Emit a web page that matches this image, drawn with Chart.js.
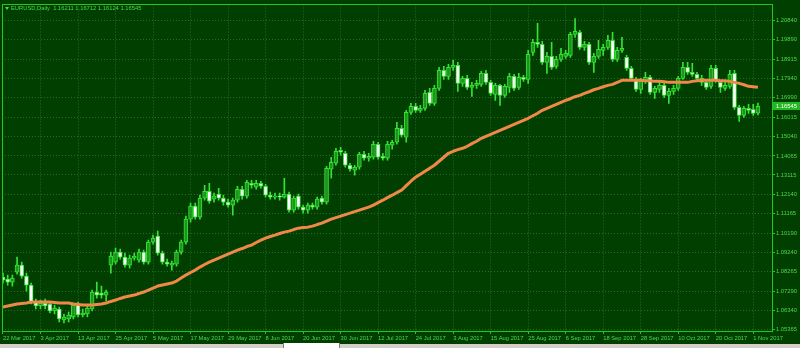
<!DOCTYPE html>
<html>
<head>
<meta charset="utf-8">
<script src="https://cdn.jsdelivr.net/npm/chart.js@4.4.0/dist/chart.umd.min.js"></script>
<style>
  html, body { margin: 0; padding: 0; background: #003f00; }
  #wrap { position: relative; width: 800px; height: 348px; overflow: hidden; background: #003f00; }
  canvas { display: block; }
  #strip { position: absolute; left: 0; top: 344px; width: 800px; height: 4px; background: #d4d0c8; }
  #tab { position: absolute; left: 283px; top: 343px; width: 55px; height: 5px; background: #ffffff; border-left: 1px solid #808080; border-right: 1px solid #808080; }
</style>
</head>
<body>
<div id="wrap">
  <canvas id="chart" width="800" height="344"></canvas>
  <div id="strip"></div>
  <div id="tab"></div>
</div>
<script>
var symbolName = "EURUSD,Daily";

// one label every 8 daily bars, first bar = 22 Mar 2017
var tickLabels = ["22 Mar 2017", "3 Apr 2017", "13 Apr 2017", "25 Apr 2017", "5 May 2017",
  "17 May 2017", "29 May 2017", "8 Jun 2017", "20 Jun 2017", "30 Jun 2017", "12 Jul 2017",
  "24 Jul 2017", "3 Aug 2017", "15 Aug 2017", "25 Aug 2017", "6 Sep 2017", "18 Sep 2017",
  "28 Sep 2017", "10 Oct 2017", "20 Oct 2017", "1 Nov 2017"];
var barsPerLabel = 8;

var priceTicks = [1.20840, 1.19890, 1.18915, 1.17940, 1.16990, 1.16015, 1.15040, 1.14065,
  1.13115, 1.12140, 1.11165, 1.10190, 1.09240, 1.08265, 1.07290, 1.06340, 1.05365];

var opens = [
  1.0800, 1.0790, 1.0775, 1.0825, 1.0860, 1.0805, 1.0760, 1.0675, 1.0655, 1.0670,
  1.0665, 1.0630, 1.0640, 1.0585, 1.0590, 1.0600, 1.0660, 1.0610, 1.0615, 1.0640,
  1.0725, 1.0720, 1.0710, 1.0860, 1.0875, 1.0925, 1.0900, 1.0860, 1.0895, 1.0885,
  1.0925, 1.0875, 1.0975, 1.1005, 1.0920, 1.0875, 1.0860, 1.0865, 1.0925, 1.0975,
  1.1090, 1.1155, 1.1100, 1.1195, 1.1230, 1.1190, 1.1215, 1.1195, 1.1175, 1.1160,
  1.1185, 1.1240, 1.1205, 1.1270, 1.1250, 1.1270, 1.1255, 1.1210, 1.1200, 1.1205,
  1.1200, 1.1215, 1.1135, 1.1205, 1.1150, 1.1135, 1.1160, 1.1150, 1.1195, 1.1175,
  1.1340, 1.1370, 1.1435, 1.1420, 1.1360, 1.1335, 1.1350, 1.1415, 1.1395, 1.1400,
  1.1465, 1.1405, 1.1395, 1.1460, 1.1475, 1.1545, 1.1500, 1.1625, 1.1655, 1.1635,
  1.1645, 1.1725, 1.1670, 1.1745, 1.1835, 1.1805, 1.1850, 1.1860, 1.1770, 1.1795,
  1.1750, 1.1760, 1.1765, 1.1820, 1.1775, 1.1715, 1.1760, 1.1710, 1.1750, 1.1805,
  1.1750, 1.1800, 1.1790, 1.1925, 1.1975, 1.1965, 1.1875, 1.1905, 1.1855, 1.1890,
  1.1905, 1.1910, 1.2015, 1.2025, 1.1950, 1.1965, 1.1875, 1.1905, 1.1935, 1.1950,
  1.1985, 1.1890, 1.1935, 1.1900, 1.1845, 1.1790, 1.1740, 1.1780, 1.1800, 1.1725,
  1.1740, 1.1760, 1.1710, 1.1730, 1.1745, 1.1795, 1.1850, 1.1825, 1.1815, 1.1795,
  1.1775, 1.1755, 1.1845, 1.1775, 1.1745, 1.1755, 1.1820, 1.1650, 1.1610, 1.1645,
  1.1640, 1.16211];

var highs = [
  1.0820, 1.0810, 1.0810, 1.0900, 1.0875, 1.0820, 1.0770, 1.0690, 1.0685, 1.0690,
  1.0675, 1.0660, 1.0650, 1.0615, 1.0625, 1.0670, 1.0675, 1.0640, 1.0655, 1.0735,
  1.0775, 1.0755, 1.0735, 1.0925, 1.0945, 1.0940, 1.0920, 1.0910, 1.0920, 1.0940,
  1.0935, 1.0985, 1.1010, 1.1030, 1.0930, 1.0890, 1.0880, 1.0935, 1.0985, 1.1105,
  1.1170, 1.1170, 1.1210, 1.1260, 1.1270, 1.1220, 1.1245, 1.1210, 1.1190, 1.1195,
  1.1255, 1.1255, 1.1285, 1.1285, 1.1285, 1.1280, 1.1265, 1.1225, 1.1220, 1.1220,
  1.1295, 1.1225, 1.1205, 1.1215, 1.1160, 1.1170, 1.1170, 1.1200, 1.1205, 1.1355,
  1.1400, 1.1445, 1.1450, 1.1430, 1.1370, 1.1360, 1.1425, 1.1430, 1.1420, 1.1480,
  1.1475, 1.1420, 1.1480, 1.1485, 1.1575, 1.1560, 1.1635, 1.1670, 1.1670, 1.1660,
  1.1735, 1.1745, 1.1760, 1.1850, 1.1855, 1.1865, 1.1885, 1.1875, 1.1805, 1.1810,
  1.1775, 1.1785, 1.1830, 1.1835, 1.1785, 1.1770, 1.1765, 1.1765, 1.1820, 1.1815,
  1.1820, 1.1810, 1.1935, 1.1990, 1.2070, 1.1980, 1.1925, 1.1975, 1.1905, 1.1945,
  1.1935, 1.2025, 1.2095, 1.2035, 1.1980, 1.1975, 1.1920, 1.1985, 1.1965, 1.2010,
  1.2025, 1.1950, 1.2000, 1.1910, 1.1855, 1.1800, 1.1795, 1.1825, 1.1810, 1.1755,
  1.1775, 1.1770, 1.1745, 1.1760, 1.1805, 1.1875, 1.1875, 1.1870, 1.1825, 1.1810,
  1.1790, 1.1860, 1.1860, 1.1785, 1.1775, 1.1835, 1.1835, 1.1660, 1.1655, 1.1665,
  1.1665, 1.16712];

var lows = [
  1.0770, 1.0760, 1.0755, 1.0815, 1.0795, 1.0730, 1.0665, 1.0640, 1.0640, 1.0640,
  1.0620, 1.0615, 1.0575, 1.0570, 1.0575, 1.0590, 1.0600, 1.0600, 1.0600, 1.0630,
  1.0695, 1.0695, 1.0680, 1.0820, 1.0865, 1.0890, 1.0850, 1.0845, 1.0885, 1.0875,
  1.0865, 1.0865, 1.0965, 1.0910, 1.0865, 1.0855, 1.0835, 1.0855, 1.0915, 1.0965,
  1.1075, 1.1090, 1.1090, 1.1185, 1.1170, 1.1175, 1.1185, 1.1160, 1.1150, 1.1110,
  1.1175, 1.1190, 1.1195, 1.1245, 1.1240, 1.1245, 1.1200, 1.1190, 1.1190, 1.1185,
  1.1195, 1.1125, 1.1125, 1.1140, 1.1120, 1.1120, 1.1140, 1.1140, 1.1165, 1.1165,
  1.1295, 1.1360, 1.1410, 1.1350, 1.1330, 1.1310, 1.1340, 1.1385, 1.1380, 1.1390,
  1.1390, 1.1385, 1.1385, 1.1440, 1.1465, 1.1500, 1.1475, 1.1615, 1.1625, 1.1625,
  1.1635, 1.1660, 1.1660, 1.1735, 1.1790, 1.1790, 1.1835, 1.1730, 1.1755, 1.1740,
  1.1705, 1.1745, 1.1755, 1.1765, 1.1710, 1.1685, 1.1660, 1.1700, 1.1725, 1.1735,
  1.1740, 1.1780, 1.1770, 1.1910, 1.1950, 1.1865, 1.1820, 1.1840, 1.1845, 1.1880,
  1.1895, 1.1900, 1.2000, 1.1940, 1.1935, 1.1865, 1.1825, 1.1895, 1.1910, 1.1940,
  1.1880, 1.1880, 1.1925, 1.1835, 1.1785, 1.1730, 1.1720, 1.1770, 1.1715, 1.1695,
  1.1725, 1.1700, 1.1670, 1.1715, 1.1735, 1.1790, 1.1815, 1.1805, 1.1785, 1.1760,
  1.1740, 1.1745, 1.1775, 1.1725, 1.1735, 1.1745, 1.1640, 1.1580, 1.1600, 1.1620,
  1.1610, 1.16124];

var closes = [
  1.0785, 1.0775, 1.0795, 1.0860, 1.0805, 1.0760, 1.0675, 1.0655, 1.0670, 1.0655,
  1.0630, 1.0645, 1.0590, 1.0600, 1.0610, 1.0660, 1.0610, 1.0620, 1.0645, 1.0725,
  1.0710, 1.0710, 1.0725, 1.0905, 1.0925, 1.0900, 1.0860, 1.0895, 1.0905, 1.0925,
  1.0875, 1.0975, 1.0995, 1.0920, 1.0875, 1.0865, 1.0870, 1.0925, 1.0975, 1.1090,
  1.1155, 1.1100, 1.1195, 1.1230, 1.1180, 1.1205, 1.1195, 1.1175, 1.1160, 1.1185,
  1.1240, 1.1205, 1.1275, 1.1260, 1.1270, 1.1255, 1.1210, 1.1200, 1.1205, 1.1200,
  1.1215, 1.1135, 1.1195, 1.1150, 1.1135, 1.1160, 1.1150, 1.1190, 1.1175, 1.1345,
  1.1375, 1.1430, 1.1425, 1.1360, 1.1340, 1.1350, 1.1415, 1.1395, 1.1405, 1.1465,
  1.1400, 1.1395, 1.1465, 1.1475, 1.1545, 1.1510, 1.1625, 1.1655, 1.1635, 1.1645,
  1.1720, 1.1670, 1.1745, 1.1835, 1.1805, 1.1850, 1.1860, 1.1770, 1.1795, 1.1750,
  1.1760, 1.1770, 1.1820, 1.1775, 1.1720, 1.1760, 1.1710, 1.1755, 1.1805, 1.1745,
  1.1800, 1.1790, 1.1915, 1.1975, 1.1965, 1.1875, 1.1905, 1.1850, 1.1890, 1.1915,
  1.1920, 1.2015, 1.2030, 1.1950, 1.1965, 1.1875, 1.1905, 1.1940, 1.1950, 1.1985,
  1.1890, 1.1935, 1.1945, 1.1845, 1.1795, 1.1740, 1.1780, 1.1800, 1.1725, 1.1745,
  1.1760, 1.1710, 1.1730, 1.1745, 1.1795, 1.1850, 1.1825, 1.1815, 1.1795, 1.1775,
  1.1750, 1.1845, 1.1785, 1.1750, 1.1760, 1.1815, 1.1650, 1.1610, 1.1645, 1.1635,
  1.1620, 1.16545];

// moving average as drawn on the chart
var movingAvg = [
  1.0650, 1.0655, 1.0660, 1.0665, 1.0668, 1.0670, 1.0675, 1.0675, 1.0675, 1.0675,
  1.0675, 1.0673, 1.0670, 1.0670, 1.0670, 1.0665, 1.0663, 1.0660, 1.0660, 1.0660,
  1.0663, 1.0665, 1.0670, 1.0678, 1.0685, 1.0693, 1.0700, 1.0705, 1.0710, 1.0718,
  1.0725, 1.0735, 1.0745, 1.0755, 1.0760, 1.0765, 1.0770, 1.0780, 1.0795, 1.0810,
  1.0823, 1.0835, 1.0850, 1.0863, 1.0875, 1.0885, 1.0895, 1.0905, 1.0915, 1.0925,
  1.0935, 1.0943, 1.0953, 1.0960, 1.0973, 1.0985, 1.0995, 1.1003, 1.1010, 1.1018,
  1.1025, 1.1030, 1.1038, 1.1045, 1.1048, 1.1050, 1.1055, 1.1063, 1.1070, 1.1080,
  1.1090, 1.1098, 1.1105, 1.1113, 1.1120, 1.1128, 1.1135, 1.1143, 1.1150, 1.1160,
  1.1173, 1.1185, 1.1198, 1.1210, 1.1223, 1.1235, 1.1258, 1.1280, 1.1300, 1.1315,
  1.1330, 1.1345, 1.1360, 1.1380, 1.1400, 1.1420, 1.1430, 1.1438, 1.1445, 1.1455,
  1.1468, 1.1480, 1.1495, 1.1505, 1.1515, 1.1525, 1.1535, 1.1545, 1.1555, 1.1565,
  1.1575, 1.1585, 1.1595, 1.1608, 1.1620, 1.1635, 1.1645, 1.1655, 1.1665, 1.1675,
  1.1685, 1.1693, 1.1703, 1.1710, 1.1720, 1.1728, 1.1738, 1.1745, 1.1753, 1.1760,
  1.1765, 1.1775, 1.1785, 1.1785, 1.1785, 1.1785, 1.1785, 1.1783, 1.1783, 1.1780,
  1.1780, 1.1778, 1.1775, 1.1775, 1.1775, 1.1775, 1.1775, 1.1780, 1.1783, 1.1785,
  1.1785, 1.1785, 1.1785, 1.1783, 1.1783, 1.1780, 1.1775, 1.1770, 1.1763, 1.1755,
  1.1753, 1.1750];

var bgColor = "#003f00";
var gridColor = "#266e26";
var frameColor = "#22c822";
var textColor = "#4fd64f";
var bullFill = "#1d951d";
var bearFill = "#ffffff";
var candleEdge = "#34e234";
var maColor = "#f08848";
var axisFont = { family: "Liberation Sans", size: 5.8 };

var bodies = [], wicks = [], bodyColors = [], maPoints = [];
for (var i = 0; i < opens.length; i++) {
  bodies.push({ x: i, y: [opens[i], closes[i]] });
  wicks.push({ x: i, y: [lows[i], highs[i]] });
  bodyColors.push(closes[i] >= opens[i] ? bullFill : bearFill);
  maPoints.push({ x: i, y: movingAvg[i] });
}
var last = opens.length - 1;

var chartDecor = {
  id: "chartDecor",
  beforeDraw: function (chart) {
    var ctx = chart.ctx;
    ctx.save();
    ctx.fillStyle = bgColor;
    ctx.fillRect(0, 0, chart.width, chart.height);
    ctx.restore();
  },
  afterDraw: function (chart) {
    var ctx = chart.ctx, a = chart.chartArea, y = chart.scales.y;
    ctx.save();
    // frame
    ctx.strokeStyle = frameColor;
    ctx.lineWidth = 1;
    ctx.strokeRect(Math.round(a.left) + 0.5, Math.round(a.top) + 0.5,
      Math.round(a.right - a.left), Math.round(a.bottom - a.top));
    // title line
    ctx.fillStyle = textColor;
    ctx.beginPath();
    ctx.moveTo(5, 7); ctx.lineTo(9, 7); ctx.lineTo(7, 10); ctx.closePath();
    ctx.fill();
    ctx.font = "5.8px 'Liberation Sans'";
    ctx.textBaseline = "middle";
    ctx.fillText(symbolName + "  " + opens[last].toFixed(5) + " " + highs[last].toFixed(5) + " " +
      lows[last].toFixed(5) + " " + closes[last].toFixed(5), 11, 8.5);
    // last price box
    var py = Math.round(y.getPixelForValue(closes[last]));
    ctx.fillStyle = "#21b821";
    ctx.fillRect(a.right + 1, py - 4, chart.width - a.right - 1, 8);
    ctx.fillStyle = "#ffffff";
    ctx.fillText(closes[last].toFixed(5), a.right + 4, py + 0.5);
    ctx.restore();
  }
};

new Chart(document.getElementById("chart"), {
  type: "bar",
  data: {
    datasets: [
      { type: "line", data: maPoints, borderColor: maColor, borderWidth: 3, pointRadius: 0,
        tension: 0, borderJoinStyle: "round", order: 0 },
      { data: bodies, backgroundColor: bodyColors, borderColor: candleEdge, borderWidth: 1,
        borderSkipped: false, barThickness: 4, grouped: false, order: 1 },
      { data: wicks, backgroundColor: candleEdge, borderWidth: 0, barThickness: 1,
        grouped: false, order: 2 }
    ]
  },
  options: {
    responsive: false,
    animation: false,
    devicePixelRatio: 1,
    layout: { padding: { left: 2, top: 4, right: 0, bottom: 0 } },
    plugins: { legend: { display: false }, tooltip: { enabled: false } },
    scales: {
      x: {
        type: "linear",
        offset: false,
        min: -0.213,
        max: 164,
        afterBuildTicks: function (s) {
          s.ticks = tickLabels.map(function (t, k) { return { value: k * barsPerLabel }; });
        },
        afterFit: function (s) { s.height = 13; },
        ticks: {
          callback: function (v, k) { return tickLabels[k]; },
          align: "start", maxRotation: 0, autoSkip: false, padding: 1,
          color: textColor, font: axisFont
        },
        grid: { offset: false, color: gridColor, tickColor: frameColor, tickLength: 3, tickBorderDash: [] },
        border: { display: false, dash: [1, 2] }
      },
      y: {
        position: "right",
        min: 1.0530,
        max: 1.2165,
        afterBuildTicks: function (s) {
          s.ticks = priceTicks.map(function (v) { return { value: v }; });
        },
        afterFit: function (s) { s.width = 28; },
        ticks: {
          callback: function (v) { return v.toFixed(5); },
          padding: 1, color: textColor, font: axisFont
        },
        grid: { color: gridColor, tickColor: frameColor, tickLength: 3, tickBorderDash: [] },
        border: { display: false, dash: [1, 2] }
      }
    }
  },
  plugins: [chartDecor]
});
</script>
</body>
</html>
